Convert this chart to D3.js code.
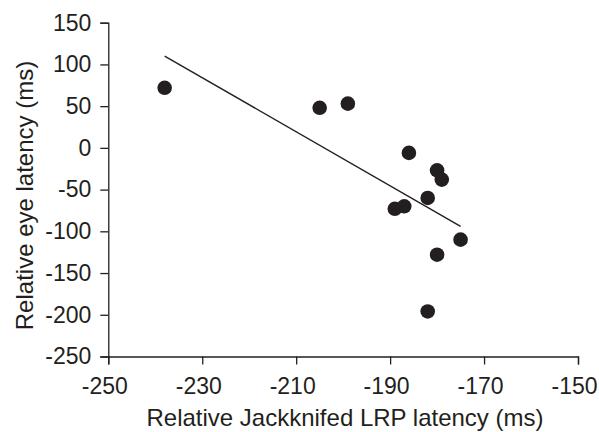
<!DOCTYPE html>
<html>
<head>
<meta charset="utf-8">
<script src="https://cdn.jsdelivr.net/npm/d3@7"></script>
<style>
  html, body { margin: 0; padding: 0; background: #fff; }
  svg { display: block; }
  text { font-family: "Liberation Sans", Arial, sans-serif; fill: #231f20; }
</style>
</head>
<body>
<svg id="chart" width="599" height="432"></svg>
<script>
// Relative jackknifed LRP latency (ms) for each participant
const lrpLatency = [-238, -205, -199, -186, -180, -179, -182, -187, -189, -175, -180, -182];
// Relative eye latency (ms) for each participant
const eyeLatency = [72, 48, 53, -6, -27, -38, -60, -70, -73, -110, -128, -196];
// Least-squares trend line, end points (x, y)
const trendX = [-238, -175];
const trendY = [110, -94];
// Axis ticks
const xTicks = [-250, -230, -210, -190, -170, -150];
const yTicks = [150, 100, 50, 0, -50, -100, -150, -200, -250];

const svg = d3.select("#chart");
const ink = "#231f20";

const x = d3.scaleLinear().domain([-250, -150]).range([108.3, 578]);
const y = d3.scaleLinear().domain([-250, 150]).range([356.5, 22.7]);

// Y axis
const yAxis = svg.append("g")
  .attr("transform", `translate(${x(-250)},0)`)
  .call(d3.axisLeft(y).tickValues(yTicks).tickSize(8).tickPadding(9).tickFormat(d3.format("d")));
// X axis
const xAxis = svg.append("g")
  .attr("transform", `translate(0,${y(-250)})`)
  .call(d3.axisBottom(x).tickValues(xTicks).tickSize(8).tickPadding(13).tickFormat(d3.format("d")));

[xAxis, yAxis].forEach(g => {
  g.select(".domain").attr("stroke", ink).attr("stroke-width", 1.3);
  g.selectAll(".tick line").attr("stroke", ink).attr("stroke-width", 1.3);
  g.selectAll(".tick text")
    .attr("fill", ink)
    .style("font-family", '"Liberation Sans", Arial, sans-serif')
    .style("font-size", "23px");
});
// Plain hyphen for negative numbers; x labels sit a little left of their ticks
svg.selectAll(".tick text").text(d => String(d));
xAxis.selectAll(".tick text").attr("dx", -4);

// Trend line
svg.append("line")
  .attr("x1", x(trendX[0])).attr("y1", y(trendY[0]))
  .attr("x2", x(trendX[1])).attr("y2", y(trendY[1]))
  .attr("stroke", ink).attr("stroke-width", 1.4);

// Data points
svg.append("g").selectAll("circle")
  .data(lrpLatency.map((v, i) => [v, eyeLatency[i]]))
  .join("circle")
  .attr("cx", d => x(d[0]))
  .attr("cy", d => y(d[1]))
  .attr("r", 7.3)
  .attr("fill", ink);

// Axis titles
svg.append("text")
  .attr("x", 345).attr("y", 426)
  .attr("text-anchor", "middle")
  .style("font-size", "24px")
  .text("Relative Jackknifed LRP latency (ms)");

svg.append("text")
  .attr("transform", "translate(33,195.5) rotate(-90)")
  .attr("text-anchor", "middle")
  .style("font-size", "24px")
  .text("Relative eye latency (ms)");
</script>
</body>
</html>
